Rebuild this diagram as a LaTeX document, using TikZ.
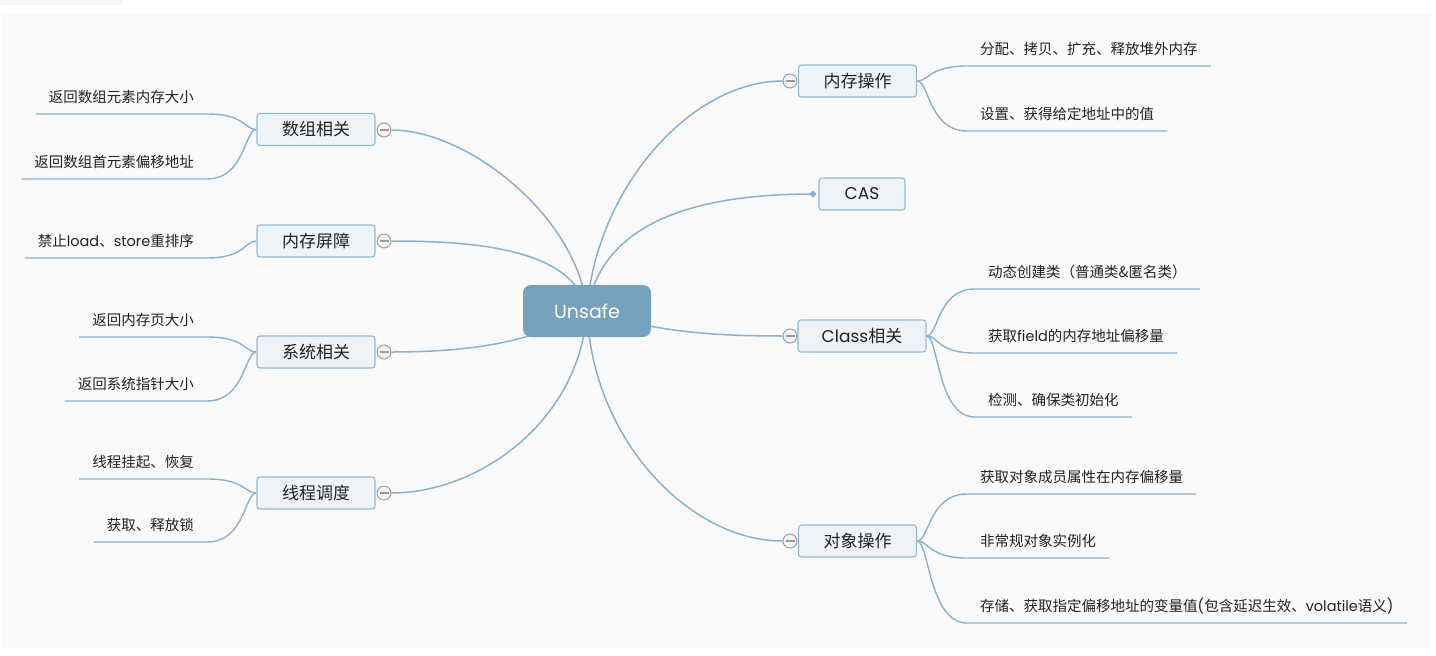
\documentclass[tikz,border=0pt]{standalone}
\usepackage{fontspec}
\setmainfont{Noto Sans CJK SC}
\newfontfamily\lat{Poppins}
\definecolor{bgc}{HTML}{FAFAFA}
\definecolor{stripc}{HTML}{F6F6F6}
\definecolor{linec}{HTML}{8DB1CC}
\definecolor{bord}{HTML}{94B8D2}
\definecolor{boxf}{HTML}{EEF3F8}
\definecolor{unsf}{HTML}{77A1BD}
\definecolor{togd}{HTML}{9A9A9A}
\definecolor{togf}{HTML}{F4F4F4}
\definecolor{txt}{HTML}{222222}
\pgfdeclarelayer{bg}
\pgfdeclarelayer{lines}
\pgfsetlayers{bg,lines,main}
\tikzset{
  branch/.style={draw=bord, fill=boxf, rounded corners=3pt, line width=1.1pt,
    minimum width=118pt, minimum height=32pt, inner sep=0pt, text=txt,
    font=\fontsize{17}{20}\selectfont},
  leaf/.style={inner xsep=13pt, inner ysep=7pt, text height=11pt, text depth=4pt,
    text=txt, font=\fontsize{14.5}{17}\selectfont},
  tog/.style={circle, draw=togd, fill=togf, line width=0.9pt, minimum size=14pt,
    inner sep=0pt, path picture={\draw[togd, line width=1.1pt]
      ([xshift=-4.5pt]path picture bounding box.center) --
      ([xshift=4.5pt]path picture bounding box.center);}},
  conn/.style={draw=linec, line width=1.5pt},
  leafline/.style={draw=linec, line width=1.4pt},
  centre/.style={fill=unsf, rounded corners=8pt, minimum width=128pt,
    minimum height=52pt, inner sep=0pt, text=white,
    font=\lat\fontsize{19}{22}\selectfont},
  dotnode/.style={circle, fill=linec, minimum size=6pt, inner sep=0pt}
}
\begin{document}
\begin{tikzpicture}[x=1pt,y=-1pt]
\useasboundingbox (0,0) rectangle (1436,656);
\begin{pgfonlayer}{bg}
  \fill[white] (0,0) rectangle (1436,656);
  \fill[stripc] (0,0) rectangle (122,5);
  \fill[bgc] (2,14) rectangle (1431,648);
\end{pgfonlayer}

% centre
\node[centre] (U) at (587,311) {Unsafe};

% branches
\node[branch] (b1) at (316,129.5) {数组相关};
\node[tog] (t1) at (384,130) {};
\node[branch] (b2) at (316,241) {内存屏障};
\node[tog] (t2) at (384,241) {};
\node[branch] (b3) at (316,352) {系统相关};
\node[tog] (t3) at (384,352) {};
\node[branch] (b4) at (316,493) {线程调度};
\node[tog] (t4) at (384,493) {};
\node[branch] (b5) at (857.5,81) {内存操作};
\node[tog] (t5) at (790,81) {};
\node[branch, minimum width=86pt] (b6) at (862,194) {\lat CAS};
\node[dotnode] (d6) at (813,194) {};
\node[branch, minimum width=128pt] (b7) at (862,336) {{\lat Class}相关};
\node[tog] (t7) at (790,336) {};
\node[branch] (b8) at (857.5,541) {对象操作};
\node[tog] (t8) at (790,541) {};

% left leaves
\node[leaf, anchor=south east] (l1) at (207,114) {返回数组元素内存大小};
\node[leaf, anchor=south east] (l2) at (207,179) {返回数组首元素偏移地址};
\node[leaf, anchor=south east] (l3) at (207,258) {禁止{\lat load}、{\lat store}重排序};
\node[leaf, anchor=south east] (l4) at (207,337) {返回内存页大小};
\node[leaf, anchor=south east] (l5) at (207,401) {返回系统指针大小};
\node[leaf, anchor=south east] (l6) at (207,479) {线程挂起、恢复};
\node[leaf, anchor=south east] (l7) at (207,542) {获取、释放锁};

% right leaves
\node[leaf, anchor=south west] (r1) at (967,66) {分配、拷贝、扩充、释放堆外内存};
\node[leaf, anchor=south west] (r2) at (967,131) {设置、获得给定地址中的值};
\node[leaf, anchor=south west] (r3) at (975,289) {动态创建类（普通类\&匿名类）};
\node[leaf, anchor=south west] (r4) at (975,353) {获取{\lat field}的内存地址偏移量};
\node[leaf, anchor=south west] (r5) at (975,417) {检测、确保类初始化};
\node[leaf, anchor=south west] (r6) at (967,494) {获取对象成员属性在内存偏移量};
\node[leaf, anchor=south west] (r7) at (967,558) {非常规对象实例化};
\node[leaf, anchor=south west] (r8) at (967,623) {存储、获取指定偏移地址的变量值{\lat (}包含延迟生效、{\lat volatile}语义{\lat )}};

\begin{pgfonlayer}{lines}
  % centre to branches
  \draw[conn] (U.center) .. controls (580,220) and (470,130) .. (t1.east);
  \draw[conn] (U.center) .. controls (575,250) and (480,241) .. (t2.east);
  \draw[conn] (U.center) .. controls (530,345) and (460,352) .. (t3.east);
  \draw[conn] (U.center) .. controls (580,420) and (480,493) .. (t4.east);
  \draw[conn] (U.center) .. controls (595,190) and (690,81) .. (t5.west);
  \draw[conn] (U.center) .. controls (600,230) and (680,194) .. (d6.center);
  \draw[conn] (U.center) .. controls (660,333) and (720,336) .. (t7.west);
  \draw[conn] (U.center) .. controls (592,440) and (690,541) .. (t8.west);
  % left leaves
  \foreach \l/\b in {l1/b1, l2/b1, l3/b2, l4/b3, l5/b3, l6/b4, l7/b4}
    \draw[leafline] (\l.south west) -- (\l.south east)
      .. controls +(38,0) and +(-12,0) .. (\b.west);
  % right leaves
  \foreach \l/\b in {r1/b5, r2/b5, r3/b7, r4/b7, r5/b7, r6/b8, r7/b8, r8/b8}
    \draw[leafline] (\l.south east) -- (\l.south west)
      .. controls +(-38,0) and +(12,0) .. (\b.east);
\end{pgfonlayer}
\end{tikzpicture}
\end{document}
